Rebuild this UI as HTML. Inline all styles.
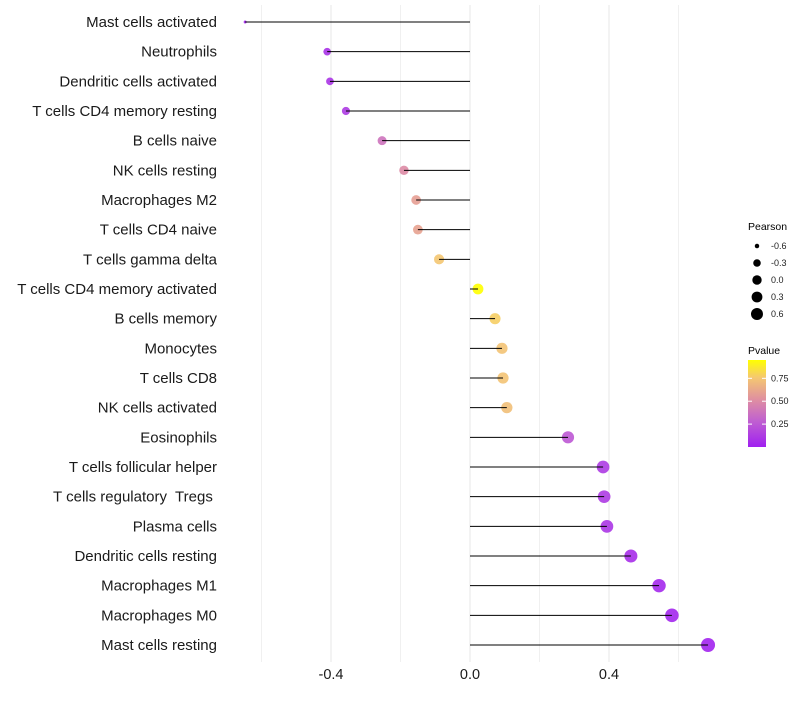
<!DOCTYPE html>
<html><head><meta charset="utf-8"><style>
body{margin:0;background:#fff;font-family:"Liberation Sans",sans-serif;}
text{white-space:pre;}
</style></head><body>
<svg id="chart" width="800" height="700" xmlns="http://www.w3.org/2000/svg">
<defs>
<linearGradient id="pg" x1="0" y1="1" x2="0" y2="0">
<stop offset="0" stop-color="#A020F0"/>
<stop offset="0.3" stop-color="#C060D0"/>
<stop offset="0.55" stop-color="#E090A0"/>
<stop offset="0.8" stop-color="#F5C870"/>
<stop offset="1" stop-color="#FFFF00"/>
</linearGradient>
</defs>
<g id="grid"></g><g id="marks"></g><g id="labels"></g><g id="legend"></g>
</svg>
<script>
const categories=["Mast cells activated","Neutrophils","Dendritic cells activated","T cells CD4 memory resting","B cells naive","NK cells resting","Macrophages M2","T cells CD4 naive","T cells gamma delta","T cells CD4 memory activated","B cells memory","Monocytes","T cells CD8","NK cells activated","Eosinophils","T cells follicular helper","T cells regulatory  Tregs ","Plasma cells","Dendritic cells resting","Macrophages M1","Macrophages M0","Mast cells resting"];
const pearson=[-0.647,-0.411,-0.403,-0.357,-0.253,-0.19,-0.155,-0.15,-0.089,0.023,0.072,0.092,0.095,0.106,0.282,0.383,0.386,0.394,0.463,0.544,0.581,0.685];
const pvalue=[0.02,0.08,0.09,0.12,0.38,0.5,0.58,0.6,0.75,0.95,0.78,0.74,0.74,0.72,0.25,0.12,0.12,0.1,0.06,0.04,0.03,0.02];
const xTicks=[-0.4,0,0.4];
const xMinor=[-0.6,-0.2,0.2,0.6];
const sizeLegend=[-0.6,-0.3,0.0,0.3,0.6];
const colorTicks=[0.25,0.5,0.75];

const NS="http://www.w3.org/2000/svg";
const X=v=>470+v*347.5;
const Y=i=>22+i*29.667;
const R=v=>1.5+Math.sqrt(Math.max(0,(v+0.647)/1.332))*5.5;
const pmin=0.0, pmax=0.95;
const stops=[[0,[160,32,240]],[0.3,[192,96,208]],[0.55,[224,144,160]],[0.8,[245,200,112]],[1,[255,255,0]]];
function col(p){let t=Math.max(0,Math.min(1,(p-pmin)/(pmax-pmin)));for(let k=1;k<stops.length;k++){if(t<=stops[k][0]){const a=stops[k-1],b=stops[k];const f=(t-a[0])/(b[0]-a[0]);return 'rgb('+a[1].map((c,j)=>Math.round(c+(b[1][j]-c)*f)).join(',')+')';}}return 'rgb(255,255,0)';}
function mk(tag,attrs,parent,text){const e=document.createElementNS(NS,tag);for(const k in attrs)e.setAttribute(k,attrs[k]);if(text!==undefined)e.textContent=text;document.getElementById(parent).appendChild(e);return e;}

xMinor.forEach(v=>{const l=mk('line',{x1:X(v),x2:X(v),y1:5,y2:662,stroke:'#f0f0f0','stroke-width':1},'grid');

});
xTicks.forEach(v=>{const l=mk('line',{x1:X(v),x2:X(v),y1:5,y2:662,stroke:'#ebebeb','stroke-width':1.2},'grid');


const t=mk('text',{x:X(v),y:679,'text-anchor':'middle','font-size':14.5,fill:'#1a1a1a'},'labels',v===0?'0.0':v.toFixed(1));

});

categories.forEach((c,i)=>{
const v=pearson[i],y=Y(i);
const d=mk('circle',{cx:X(v),cy:y,r:R(v),fill:col(pvalue[i]),'fill-opacity':0.9},'marks');


const s=mk('line',{x1:X(0),x2:X(v),y1:y,y2:y,stroke:'#000','stroke-width':1},'marks');


const t=mk('text',{x:217,y:y+5,'text-anchor':'end','font-size':15,fill:'#1a1a1a'},'labels',c);


});

let h=mk('text',{x:748,y:230,'font-size':10.5,fill:'#000'},'legend','Pearson');


sizeLegend.forEach((v,k)=>{const y=246+k*17;
const c=mk('circle',{cx:757,cy:y,r:R(v)*0.88,fill:'#000'},'legend');


const t=mk('text',{x:771,y:y+3,'font-size':9,fill:'#222'},'legend',v.toFixed(1));

});
h=mk('text',{x:748,y:354,'font-size':10.5,fill:'#000'},'legend','Pvalue');


const bar=mk('rect',{x:748,y:360,width:18,height:87,fill:'url(#pg)'},'legend');


colorTicks.forEach(p=>{const y=447-(p-pmin)/(pmax-pmin)*87;
mk('line',{x1:748,x2:752,y1:y,y2:y,stroke:'#fff'},'legend');
mk('line',{x1:762,x2:766,y1:y,y2:y,stroke:'#fff'},'legend');
const t=mk('text',{x:771,y:y+3,'font-size':9,fill:'#222'},'legend',p.toFixed(2));

});
</script>
</body></html>
